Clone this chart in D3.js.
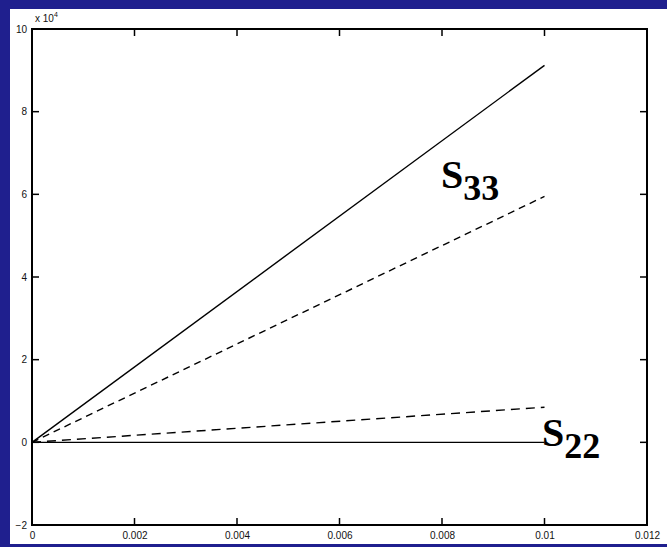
<!DOCTYPE html>
<html>
<head>
<meta charset="utf-8">
<script src="https://cdn.jsdelivr.net/npm/d3@7"></script>
<style>
  html, body { margin: 0; padding: 0; background: #1f1f8e; }
  svg { display: block; }
</style>
</head>
<body>
<div id="chart"></div>
<script>
// strain values (x) and stress series (y, in units of 10^4)
const strain = [0, 0.01];
const s33Solid = [0, 9.12];
const s33Dashed = [0, 5.95];
const s22Dashed = [0, 0.85];
const s22Solid = [0, 0];
const xTicks = [0, 0.002, 0.004, 0.006, 0.008, 0.01, 0.012];
const xTickLabels = ['0', '0.002', '0.004', '0.006', '0.008', '0.01', '0.012'];
const yTicks = [-2, 0, 2, 4, 6, 8, 10];

const width = 667, height = 547;
const margin = {top: 29, right: 20, bottom: 22, left: 32};
const tickFont = "Arial, 'Liberation Sans', sans-serif";

const svg = d3.select('#chart').append('svg')
    .attr('width', width)
    .attr('height', height);

// white figure panel
svg.append('rect')
    .attr('x', 10).attr('y', 9)
    .attr('width', width - 10).attr('height', 535)
    .attr('fill', '#fff');

const x = d3.scaleLinear().domain([0, 0.012]).range([margin.left, width - margin.right]);
const y = d3.scaleLinear().domain([-2, 10]).range([height - margin.bottom, margin.top]);

const g = svg.append('g');

// axes box
g.append('rect')
    .attr('x', x(0)).attr('y', y(10))
    .attr('width', x(0.012) - x(0)).attr('height', y(-2) - y(10))
    .attr('fill', 'none').attr('stroke', '#000').attr('stroke-width', 2);

const tickLen = 7;
const xAxisB = d3.axisBottom(x).tickValues(xTicks).tickSize(0)
    .tickFormat((d, i) => xTickLabels[i]).tickPadding(7);
const gx = g.append('g').attr('transform', 'translate(0,' + y(-2) + ')').call(xAxisB);
gx.select('.domain').remove();
gx.selectAll('text').attr('font-family', tickFont).attr('font-size', 10).attr('fill', '#111');

const yAxisL = d3.axisLeft(y).tickValues(yTicks).tickSize(0).tickPadding(5);
const gy = g.append('g').attr('transform', 'translate(' + x(0) + ',0)').call(yAxisL);
gy.select('.domain').remove();
gy.selectAll('text').attr('font-family', tickFont).attr('font-size', 10).attr('fill', '#111');

// inward tick marks on all four sides
const inner = g.append('g').attr('stroke', '#000').attr('stroke-width', 1.5);
xTicks.slice(1, -1).forEach(t => {
  inner.append('line').attr('x1', x(t)).attr('x2', x(t)).attr('y1', y(-2)).attr('y2', y(-2) - tickLen);
  inner.append('line').attr('x1', x(t)).attr('x2', x(t)).attr('y1', y(10)).attr('y2', y(10) + tickLen);
});
yTicks.slice(1, -1).forEach(t => {
  inner.append('line').attr('y1', y(t)).attr('y2', y(t)).attr('x1', x(0)).attr('x2', x(0) + tickLen);
  inner.append('line').attr('y1', y(t)).attr('y2', y(t)).attr('x1', x(0.012)).attr('x2', x(0.012) - tickLen);
});

// exponent label
const expo = g.append('text')
    .attr('x', 35).attr('y', 22)
    .attr('font-family', tickFont).attr('font-size', 10).attr('fill', '#111');
expo.append('tspan').text('x 10');
expo.append('tspan').attr('dy', -5).attr('font-size', 7).text('4');

const line = d3.line().x(d => x(d[0])).y(d => y(d[1]));
const series = [
  {vals: s33Solid, dash: null},
  {vals: s33Dashed, dash: '7,5'},
  {vals: s22Dashed, dash: '9,6'},
  {vals: s22Solid, dash: null}
];
g.selectAll('path.series').data(series).enter().append('path')
    .attr('class', 'series')
    .attr('d', s => line(strain.map((v, i) => [v, s.vals[i]])))
    .attr('fill', 'none')
    .attr('stroke', '#000')
    .attr('stroke-width', 1.4)
    .attr('stroke-dasharray', s => s.dash);

// series labels
function label(px, py, sub) {
  const t = g.append('text')
      .attr('x', px).attr('y', py)
      .attr('font-family', "'Liberation Serif', 'Times New Roman', Times, serif")
      .attr('font-weight', 'bold').attr('font-size', 40);
  t.append('tspan').text('S');
  t.append('tspan').attr('dy', 12).attr('font-size', 36).text(sub);
}
label(441, 188, '33');
label(542, 446, '22');
</script>
</body>
</html>
